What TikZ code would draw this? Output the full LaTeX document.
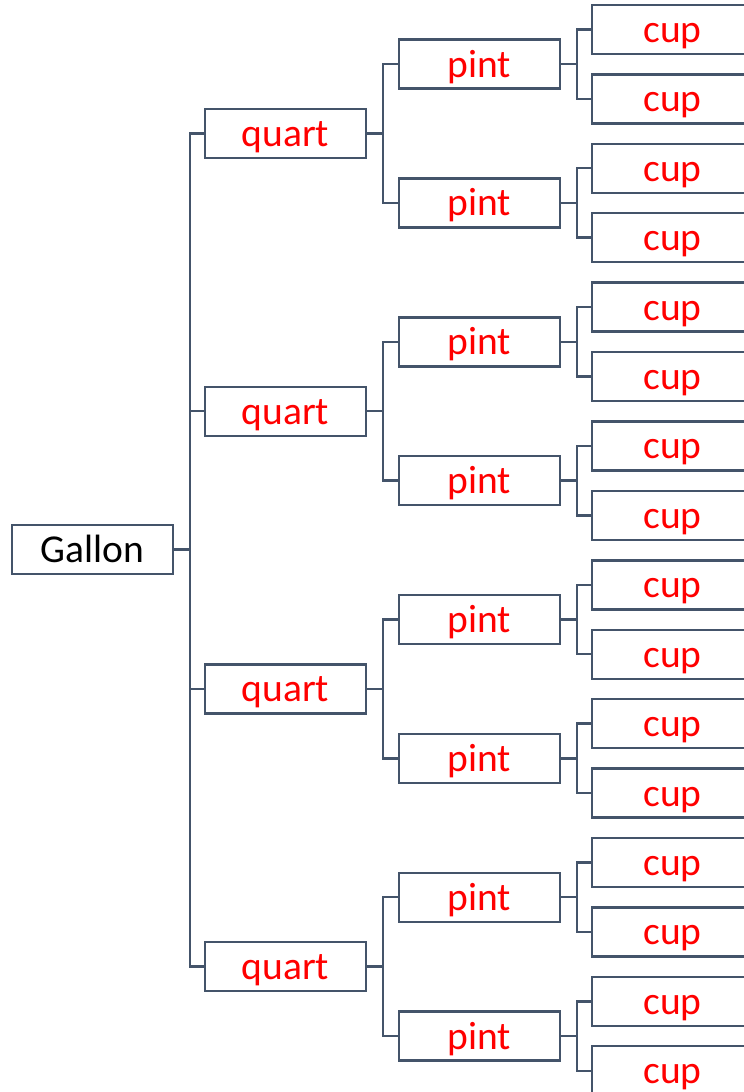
\documentclass[tikz,border=0pt]{standalone}
\usepackage{fontspec}
\setmainfont{Carlito}
\definecolor{linecol}{HTML}{44546A}
\definecolor{labred}{HTML}{FF0000}
\begin{document}
\begin{tikzpicture}[x=1pt,y=-1pt,
  box/.style={draw=linecol,line width=2.4pt,fill=white,minimum width=161pt,minimum height=49pt,
    inner sep=0pt,font=\fontsize{39.5}{41}\selectfont,text height=30pt,text depth=4pt},
  redbox/.style={box,text=labred},
  conn/.style={draw=linecol,line width=2.4pt}]
\clip (0,0) rectangle (744,1092);
\fill[white] (0,0) rectangle (744,1092);
\node[box] (g) at (92.5,549.5) {Gallon};
\foreach \i in {1,...,4}{
  \pgfmathsetmacro{\qy}{133.5+(\i-1)*277.7}
  \node[redbox] (q\i) at (285.5,\qy) {quart};
  \draw[conn] (g.east) -- ++(16,0) |- (q\i.west);
  \foreach \j in {1,2}{
    \pgfmathsetmacro{\py}{\qy+(\j*2-3)*69.4}
    \node[redbox] (p\i\j) at (479.5,\py) {pint};
    \draw[conn] (q\i.east) -- ++(16,0) |- (p\i\j.west);
    \foreach \k in {1,2}{
      \pgfmathsetmacro{\cy}{\py+(\k*2-3)*34.7}
      \node[redbox] (c\i\j\k) at (672.5,\cy) {cup};
      \draw[conn] (p\i\j.east) -- ++(16,0) |- (c\i\j\k.west);
    }
  }
}
\end{tikzpicture}
\end{document}
